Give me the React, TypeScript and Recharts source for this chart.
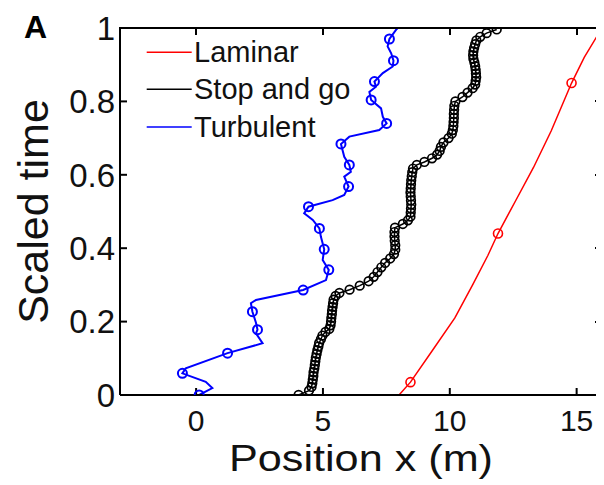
import React from 'react';
import { LineChart, Line, XAxis, YAxis } from 'recharts';

const SERIES_NAMES = ['Laminar', 'Stop and go', 'Turbulent'];
const SERIES_COLORS = ['#ff0000', '#000000', '#0000ff'];

const X_TICKS = [0, 5, 10, 15];
const Y_TICKS = [0, 0.2, 0.4, 0.6, 0.8, 1];
const X_DOMAIN: [number, number] = [-3, 16];
const Y_DOMAIN: [number, number] = [0, 1];

const PANEL_LABEL = 'A';
const X_LABEL = 'Position x (m)';
const Y_LABEL = 'Scaled time';

// Laminar (red)
const LAMINAR_X = [8.0, 8.45, 9.3, 10.2, 10.9, 11.5, 11.9, 12.6, 13.3, 14.0, 14.8, 15.3, 16.0];
const LAMINAR_Y = [0.0, 0.035, 0.12, 0.21, 0.3, 0.38, 0.44, 0.53, 0.62, 0.72, 0.85, 0.92, 1.0];
const LAMINAR_MARKS = [1, 6, 10];

// Stop and go (black) - every point marked
const STOPGO_X = [
  4.04, 4.45, 4.55, 4.58, 4.6, 4.62, 4.63, 4.66, 4.68, 4.7,
  4.72, 4.75, 4.78, 4.82, 4.85, 4.92, 4.98, 5.1, 5.25, 5.3,
  5.32, 5.33, 5.35, 5.36, 5.38, 5.4, 5.42, 5.5, 5.65, 6.05,
  6.45, 6.8, 7.0, 7.15, 7.3, 7.45, 7.65, 7.8, 7.85, 7.85,
  7.83, 7.82, 7.82, 7.84, 8.15, 8.35, 8.45, 8.46, 8.47, 8.48,
  8.47, 8.46, 8.45, 8.46, 8.47, 8.48, 8.5, 8.52, 8.55, 8.7,
  9.0, 9.3, 9.5, 9.6, 9.65, 9.75, 9.95, 10.08, 10.12, 10.14,
  10.15, 10.16, 10.16, 10.17, 10.18, 10.22, 10.5, 10.7, 10.9, 11.0,
  11.02, 11.04, 11.03, 11.02, 11.0, 10.97, 10.93, 10.92, 10.93, 10.96,
  11.0, 11.05, 11.2, 11.45, 11.85,
];
const STOPGO_Y = [
  0.0, 0.012, 0.022, 0.032, 0.042, 0.052, 0.062, 0.072, 0.082, 0.092,
  0.102, 0.112, 0.122, 0.132, 0.142, 0.152, 0.162, 0.172, 0.18, 0.19,
  0.2, 0.21, 0.22, 0.23, 0.24, 0.25, 0.26, 0.27, 0.278, 0.287,
  0.298, 0.31, 0.322, 0.335, 0.348, 0.36, 0.372, 0.384, 0.396, 0.408,
  0.42, 0.432, 0.444, 0.456, 0.466, 0.476, 0.486, 0.497, 0.508, 0.519,
  0.53, 0.541, 0.552, 0.563, 0.574, 0.585, 0.596, 0.607, 0.617, 0.627,
  0.635, 0.645, 0.655, 0.665, 0.676, 0.688, 0.7, 0.712, 0.722, 0.733,
  0.744, 0.755, 0.766, 0.777, 0.788, 0.8, 0.812, 0.824, 0.836, 0.846,
  0.856, 0.866, 0.876, 0.886, 0.896, 0.906, 0.916, 0.926, 0.936, 0.946,
  0.956, 0.966, 0.976, 0.986, 0.996,
];

// Turbulent (blue)
const TURB_X = [
  0.12, 0.64, 0.38, -0.54, -0.41, 1.24, 2.62, 2.36, 2.42, 2.36,
  2.22, 2.16, 2.36, 4.22, 5.12, 5.23, 4.99, 5.05, 4.92, 4.86,
  4.6, 4.26, 4.43, 5.38, 5.84, 6.01, 5.84, 6.1, 6.04, 5.84,
  5.71, 6.04, 7.22, 7.51, 7.36, 7.29, 6.9, 6.83, 7.09, 7.03,
  7.36, 7.75, 7.78, 7.69, 7.55, 7.62, 7.88, 7.95,
];
const TURB_Y = [
  0.0, 0.019, 0.036, 0.059, 0.073, 0.114, 0.141, 0.168, 0.178, 0.197,
  0.227, 0.25, 0.259, 0.286, 0.313, 0.341, 0.368, 0.397, 0.431, 0.454,
  0.477, 0.495, 0.513, 0.531, 0.545, 0.568, 0.595, 0.608, 0.627, 0.649,
  0.684, 0.704, 0.722, 0.74, 0.758, 0.781, 0.804, 0.826, 0.84, 0.854,
  0.877, 0.895, 0.911, 0.931, 0.95, 0.97, 0.995, 1.0,
];
const TURB_MARKS = [0, 3, 5, 8, 10, 13, 15, 17, 19, 22, 25, 28, 30, 33, 36, 39, 42, 45];

type Pt = { x: number; y: number; m: boolean };
const build = (xs: number[], ys: number[], marks: number[] | 'all'): Pt[] =>
  xs.map((x, i) => ({ x, y: ys[i], m: marks === 'all' || marks.includes(i) }));

const laminarData = build(LAMINAR_X, LAMINAR_Y, LAMINAR_MARKS);
const stopGoData = build(STOPGO_X, STOPGO_Y, 'all');
const turbData = build(TURB_X, TURB_Y, TURB_MARKS);

const FONT = '"Liberation Sans", Arial, Helvetica, sans-serif';
const CHART_W = 596;
const CHART_H = 477;
const MARGIN = { top: 20, right: 2, bottom: 0, left: 0 };
const Y_AXIS_W = 112;
const X_AXIS_H = 90;
const TICK_LEN = 7;
const AXIS_W = 2;
const PLOT = {
  left: MARGIN.left + Y_AXIS_W,
  right: CHART_W - MARGIN.right,
  top: MARGIN.top,
  bottom: CHART_H - MARGIN.bottom - X_AXIS_H,
};
const sxFrame = (v: number) => PLOT.left + ((v - X_DOMAIN[0]) / (X_DOMAIN[1] - X_DOMAIN[0])) * (PLOT.right - PLOT.left);
const syFrame = (v: number) => PLOT.bottom - ((v - Y_DOMAIN[0]) / (Y_DOMAIN[1] - Y_DOMAIN[0])) * (PLOT.bottom - PLOT.top);

const makeDot = (color: string, r: number, sw: number) => (props: any) => {
  const { cx, cy, payload, index } = props;
  if (!payload || !payload.m || cx == null || cy == null) return <g key={`d-${index}`} />;
  return <circle key={`d-${index}`} cx={cx} cy={cy} r={r} fill="none" stroke={color} strokeWidth={sw} />;
};

const LegendSvg = () => {
  const rows = [44.3, 81.3, 119];
  return (
    <g>
      {SERIES_NAMES.map((name, i) => (
        <g key={name}>
          <line x1={138.7} x2={183.7} y1={rows[i]} y2={rows[i]} stroke={SERIES_COLORS[i]} strokeWidth={1.5} />
          <text x={186} y={rows[i] + 9.5} fontSize={29} fill="#111" fontFamily={FONT}>{name}</text>
        </g>
      ))}
    </g>
  );
};

const YLabel = () => {
  const lx = 40;
  const ly = (PLOT.top + PLOT.bottom) / 2;
  return (
    <g>
      <text x={16} y={30} fontSize={32} fontWeight="bold" fill="#000" fontFamily={FONT}>{PANEL_LABEL}</text>
      <text x={lx} y={ly} transform={`rotate(-90, ${lx}, ${ly})`} textAnchor="middle" fontSize={43} fill="#111" fontFamily={FONT}>
        {Y_LABEL}
      </text>
      <LegendSvg />
    </g>
  );
};

const XLabel = () => {
  const cx = (PLOT.left + PLOT.right) / 2;
  return (
    <text x={cx} y={463} textAnchor="middle" fontSize={36} fill="#111" fontFamily={FONT} textLength={264} lengthAdjust="spacingAndGlyphs">
      {X_LABEL}
    </text>
  );
};

// HTML overlay for the top and right edges of the box plus their inward ticks
const FrameOverlay = () => {
  const half = AXIS_W / 2;
  return (
    <>
      <div
        style={{
          position: 'absolute',
          left: PLOT.left - half,
          top: PLOT.top - half,
          width: PLOT.right - PLOT.left + AXIS_W,
          height: PLOT.bottom - PLOT.top + AXIS_W,
          borderTop: `${AXIS_W}px solid #000`,
          borderRight: `${AXIS_W}px solid #000`,
          boxSizing: 'border-box',
          pointerEvents: 'none',
        }}
      />
      {X_TICKS.map((t) => (
        <div
          key={`tt-${t}`}
          style={{
            position: 'absolute',
            left: sxFrame(t) - half,
            top: PLOT.top,
            width: AXIS_W,
            height: TICK_LEN,
            background: '#000',
            pointerEvents: 'none',
          }}
        />
      ))}
      {Y_TICKS.map((t) => (
        <div
          key={`rt-${t}`}
          style={{
            position: 'absolute',
            left: PLOT.right - TICK_LEN,
            top: syFrame(t) - half,
            width: TICK_LEN,
            height: AXIS_W,
            background: '#000',
            pointerEvents: 'none',
          }}
        />
      ))}
    </>
  );
};

const axisStroke = { stroke: '#000', strokeWidth: AXIS_W };

export default function App() {
  return (
    <div style={{ fontFamily: FONT, width: CHART_W, height: CHART_H, position: 'relative' }}>
      <LineChart width={CHART_W} height={CHART_H} margin={MARGIN}>
        <XAxis
          xAxisId="b"
          type="number"
          dataKey="x"
          domain={X_DOMAIN}
          ticks={X_TICKS}
          allowDataOverflow
          height={X_AXIS_H}
          tickSize={-TICK_LEN}
          tickMargin={22}
          axisLine={axisStroke}
          tickLine={axisStroke}
          tick={{ fontSize: 30, fill: '#111', fontFamily: FONT }}
          label={{ content: () => <XLabel /> }}
        />
        <YAxis
          yAxisId="l"
          type="number"
          dataKey="y"
          domain={Y_DOMAIN}
          ticks={Y_TICKS}
          allowDataOverflow
          width={Y_AXIS_W}
          tickSize={-TICK_LEN}
          tickMargin={12}
          axisLine={axisStroke}
          tickLine={axisStroke}
          tick={{ fontSize: 33, fill: '#111', fontFamily: FONT }}
          label={{ content: () => <YLabel /> }}
        />
        <Line
          xAxisId="b"
          yAxisId="l"
          data={laminarData}
          dataKey="y"
          name={SERIES_NAMES[0]}
          type="linear"
          stroke={SERIES_COLORS[0]}
          strokeWidth={1.5}
          dot={makeDot(SERIES_COLORS[0], 4.5, 1.6)}
          activeDot={false}
          isAnimationActive={false}
        />
        <Line
          xAxisId="b"
          yAxisId="l"
          data={stopGoData}
          dataKey="y"
          name={SERIES_NAMES[1]}
          type="linear"
          stroke={SERIES_COLORS[1]}
          strokeWidth={1.5}
          dot={makeDot(SERIES_COLORS[1], 4.3, 1.7)}
          activeDot={false}
          isAnimationActive={false}
        />
        <Line
          xAxisId="b"
          yAxisId="l"
          data={turbData}
          dataKey="y"
          name={SERIES_NAMES[2]}
          type="linear"
          stroke={SERIES_COLORS[2]}
          strokeWidth={2}
          dot={makeDot(SERIES_COLORS[2], 4.5, 2)}
          activeDot={false}
          isAnimationActive={false}
        />
      </LineChart>
      <FrameOverlay />
    </div>
  );
}
